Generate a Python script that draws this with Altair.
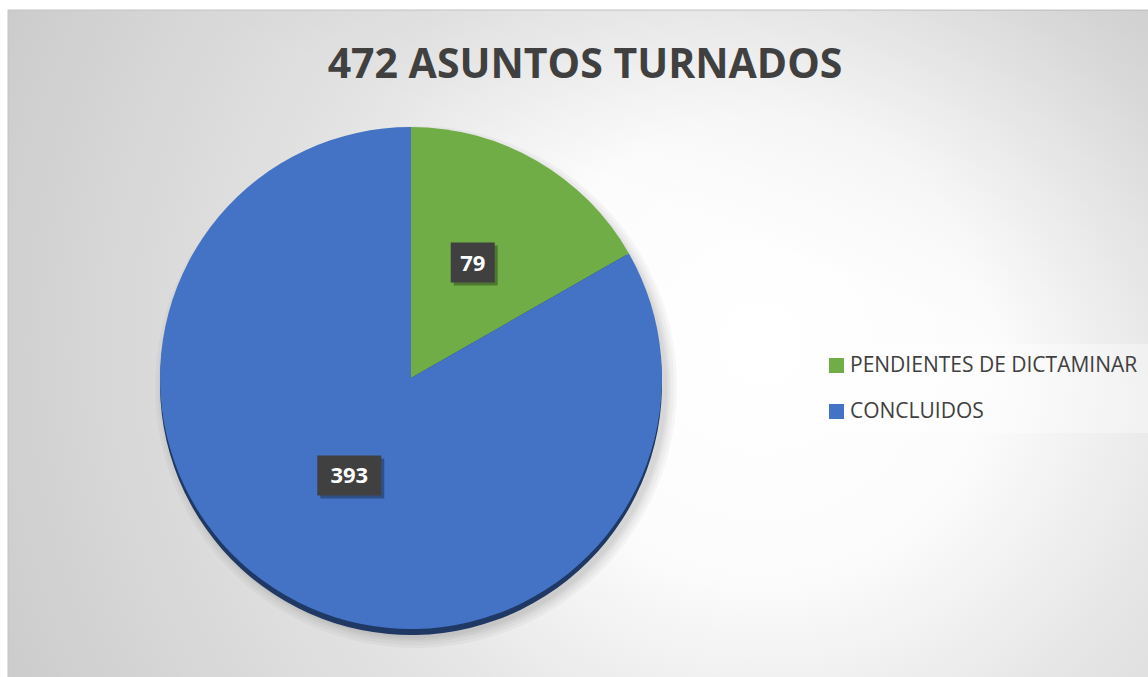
import altair as alt
import pandas as pd
import numpy as np

# ---- data ----
categories = ["PENDIENTES DE DICTAMINAR", "CONCLUIDOS"]
values = [79, 393]
colors = ["#70AD47", "#4472C4"]
title_text = ["472 ASUNTOS TURNADOS"]

# ---- layout ----
W, H = 1148, 677
CX, CY, R = 411, 378, 251
LABEL_R = 123

df = pd.DataFrame({"cat": categories, "value": values, "order": list(range(len(values)))})
total = df["value"].sum()
cum = df["value"].cumsum() - df["value"]
mid = (cum + df["value"] / 2) / total * 2 * np.pi
df["lx"] = CX + LABEL_R * np.sin(mid)
df["ly"] = CY - LABEL_R * np.cos(mid) - 9
df["label"] = df["value"].astype(str)
halfw = 2 + 10 * df["label"].str.len()
df["bx1"] = df["lx"] - halfw
df["bx2"] = df["lx"] + halfw
df["by1"] = df["ly"] - 20
df["by2"] = df["ly"] + 20

one = pd.DataFrame({"a": [0]})

radial = {
    "gradient": "radial",
    "x1": 0.66, "y1": 0.5, "r1": 0,
    "x2": 0.66, "y2": 0.5, "r2": 0.8,
    "stops": [
        {"offset": 0.0, "color": "#ffffff"},
        {"offset": 0.25, "color": "#fcfcfc"},
        {"offset": 0.5, "color": "#e4e4e4"},
        {"offset": 0.8, "color": "#d2d2d2"},
        {"offset": 1.0, "color": "#c6c6c6"},
    ],
}
corner = {
    "gradient": "linear",
    "x1": 1, "y1": 0, "x2": 0.72, "y2": 0.4,
    "stops": [
        {"offset": 0.0, "color": "rgba(0,0,0,0.07)"},
        {"offset": 1.0, "color": "rgba(0,0,0,0)"},
    ],
}

bg = alt.Chart(one).mark_rect(fill=radial, stroke="#c4c4c4", strokeWidth=1).encode(
    x=alt.value(8), x2=alt.value(W + 2), y=alt.value(10), y2=alt.value(H + 2)
)
bg2 = alt.Chart(one).mark_rect(fill=corner).encode(
    x=alt.value(8), x2=alt.value(W + 2), y=alt.value(10), y2=alt.value(H + 2)
)

base = alt.Chart(df)
theta = alt.Theta("value:Q", stack=True)

shadows = [
    base.mark_arc(radius=R + k, fill="black", opacity=0.03).encode(
        theta=theta, order=alt.Order("order:Q"), x=alt.value(CX + 5), y=alt.value(CY + 9)
    )
    for k in [10, 7, 4, 2, 0]
]

edge = base.mark_arc(radius=R, fill="#1F3864").encode(
    theta=theta, order=alt.Order("order:Q"), x=alt.value(CX), y=alt.value(CY + 6)
)

pie = base.mark_arc(radius=R).encode(
    theta=theta,
    order=alt.Order("order:Q"),
    x=alt.value(CX),
    y=alt.value(CY),
    color=alt.Color(
        "cat:N",
        scale=alt.Scale(domain=categories, range=colors),
        sort=categories,
        legend=alt.Legend(
            title=None,
            orient="none",
            legendX=815,
            legendY=344,
            symbolType="square",
            symbolSize=225,
            symbolStrokeWidth=0,
            labelFont="Open Sans",
            labelFontSize=21,
            labelColor="#404040",
            labelOffset=3,
            labelLimit=500,
            rowPadding=24,
            padding=11,
            fillColor="rgba(255,255,255,0.35)",
        ),
    ),
)

box_shadow = base.mark_rect(
    color="black", opacity=0.3, xOffset=3, x2Offset=3, yOffset=3, y2Offset=3
).encode(
    x=alt.X("bx1:Q", scale=None, axis=None), x2="bx2",
    y=alt.Y("by1:Q", scale=None, axis=None), y2="by2",
)
box = base.mark_rect(color="#404040").encode(
    x=alt.X("bx1:Q", scale=None, axis=None), x2="bx2",
    y=alt.Y("by1:Q", scale=None, axis=None), y2="by2",
)
labels = base.mark_text(
    font="Open Sans", fontWeight="bold", fontSize=22, color="white",
    align="center", baseline="alphabetic", dy=8,
).encode(
    x=alt.X("lx:Q", scale=None, axis=None),
    y=alt.Y("ly:Q", scale=None, axis=None),
    text="label:N",
)

title = alt.Chart(pd.DataFrame({"t": title_text})).mark_text(
    font="Open Sans", fontWeight="bold", fontSize=41, color="#404040",
    align="center", baseline="alphabetic",
).encode(x=alt.value(585), y=alt.value(78), text="t:N")

chart = alt.layer(
    bg, bg2, *shadows, edge, pie, box_shadow, box, labels, title
).properties(
    width=W, height=H, autosize=alt.AutoSizeParams(type="none"), padding=0,
    background="white",
).configure_view(stroke=None)

chart.save("out.html", embed_options={"renderer": "svg", "actions": False})
